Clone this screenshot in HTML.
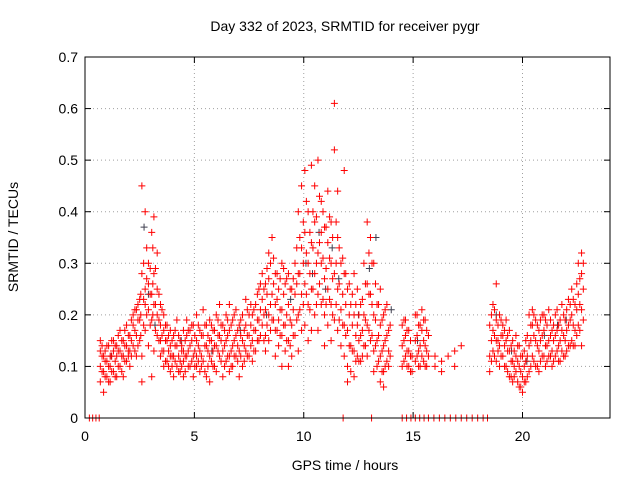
<!DOCTYPE html>
<html><head><meta charset="utf-8"><style>
body{margin:0;background:#fff}
svg text{font-family:"Liberation Sans",sans-serif;fill:#000}
</style></head><body>
<svg id="chart" width="640" height="480" xmlns="http://www.w3.org/2000/svg">
<rect width="640" height="480" fill="#fff"/>
<text x="345" y="31" font-size="14" text-anchor="middle">Day 332 of 2023, SRMTID for receiver pygr</text>
<text x="345" y="470" font-size="14" text-anchor="middle">GPS time / hours</text>
<text x="18" y="237" font-size="14" text-anchor="middle" transform="rotate(-90 18 237)">SRMTID / TECUs</text>
<g id="grid"></g>
<g id="axes"></g>
<g id="marks"></g>
<rect x="85" y="57" width="525" height="361" fill="none" stroke="#000" stroke-width="1"/>
</svg>
<script>
const xTicks=[0,5,10,15,20];
const yTicks=[0,0.1,0.2,0.3,0.4,0.5,0.6,0.7];
const yTickLabels=["0","0.1","0.2","0.3","0.4","0.5","0.6","0.7"];
const hours=[0.7,0.85,1.0,1.15,1.3,1.45,1.6,1.75,1.9,2.05,2.2,2.35,2.5,2.6,2.75,2.9,3.05,3.15,3.3,3.45,3.6,3.75,3.9,4.05,4.2,4.35,4.5,4.65,4.8,4.95,5.1,5.25,5.4,5.55,5.7,5.85,6.0,6.15,6.3,6.45,6.6,6.75,6.9,7.05,7.2,7.35,7.5,7.65,7.8,7.95,8.1,8.25,8.4,8.55,8.7,8.85,9.0,9.15,9.3,9.45,9.6,9.75,9.9,10.05,10.2,10.35,10.5,10.65,10.8,10.95,11.1,11.25,11.4,11.55,11.7,11.85,12.0,12.15,12.3,12.45,12.6,12.75,12.9,13.05,13.2,13.35,13.5,13.65,13.8,13.95,14.5,14.65,14.8,14.95,15.1,15.25,15.4,15.55,15.7,16.0,16.3,16.6,16.9,17.2,18.5,18.65,18.8,18.95,19.1,19.25,19.4,19.55,19.7,19.85,20.0,20.15,20.3,20.45,20.6,20.75,20.9,21.05,21.2,21.35,21.5,21.65,21.8,21.95,22.1,22.25,22.4,22.55,22.7];
const srmtid=[[.10,.13,.07,.15],[.05,.12,.09],[.11,.08,.14],[.07,.12,.10],[.13,.09,.15],[.08,.12,.14],[.10,.17,.13],[.12,.08,.15],[.14,.11,.18],[.16,.13,.10],[.18,.14,.20],[.21,.16,.12],[.19,.15,.23],[.45,.28,.12,.07],[.25,.40,.17,.22],[.21,.30,.14,.26],[.24,.36,.19,.08],[.39,.28,.22,.13],[.32,.25,.16,.20],[.18,.22,.12,.15],[.17,.13,.10,.20],[.15,.11,.18],[.14,.09,.12,.17],[.12,.16,.08],[.14,.10,.19],[.11,.15,.09],[.13,.17,.08,.11],[.16,.12,.19],[.14,.10,.17],[.12,.18,.08],[.15,.10,.20,.12],[.13,.17,.09],[.11,.16,.21],[.08,.14,.18],[.12,.19,.07,.15],[.17,.13,.10],[.20,.14,.09],[.16,.12,.22],[.13,.18,.08],[.15,.11,.20],[.17,.12,.09,.22],[.14,.19,.10],[.16,.12,.21],[.13,.18,.08],[.15,.10,.20],[.18,.13,.23],[.16,.12,.20],[.20,.15,.11],[.22,.17,.13],[.19,.25,.15],[.23,.18,.28],[.21,.16,.26,.13],[.27,.20,.32,.15],[.35,.24,.19],[.28,.22,.17,.12],[.25,.19,.14],[.30,.21,.16,.10],[.26,.18,.13],[.22,.15,.10,.28],[.18,.12,.25],[.24,.16,.30],[.40,.28,.20,.13],[.33,.24,.17,.45],[.36,.26,.48,.18],[.30,.22,.40,.15],[.49,.34,.25,.17],[.38,.28,.20,.45],[.32,.24,.17,.50],[.42,.30,.22,.36],[.37,.27,.20,.14],[.34,.25,.18,.44],[.30,.22,.15,.38],[.61,.52,.28,.19],[.35,.25,.17,.44],[.30,.21,.14],[.48,.28,.18,.12],[.25,.17,.10,.07],[.22,.14,.09],[.20,.13,.08,.28],[.18,.12,.25],[.16,.22,.11],[.14,.20,.30],[.38,.26,.18,.12],[.35,.24,.15],[.30,.20,.13,.09],[.22,.15,.10],[.18,.12,.07,.25],[.14,.09,.06,.20],[.22,.16,.11],[.18,.12],[.14,.10,.18],[.12,.16,.19],[.10,.13,.17],[.12,.09],[.20,.15,.11],[.13,.18,.10],[.17,.12,.21],[.19,.14,.10],[.16,.12],[.12,.10],[.11,.09],[.12],[.10,.13],[.14],[.12,.18,.09],[.17,.13,.22],[.26,.19,.15,.11],[.20,.14,.10],[.18,.12,.16],[.15,.10,.19],[.13,.08,.17],[.11,.15,.07],[.12,.09,.16],[.10,.14,.06],[.08,.12,.05],[.11,.07,.15],[.14,.09,.20],[.18,.12,.21],[.15,.10,.19],[.13,.17,.09],[.16,.12,.20],[.19,.14,.10],[.15,.21,.12],[.13,.17,.10],[.16,.20,.12],[.14,.18,.11],[.17,.13,.22],[.15,.19,.12],[.18,.14,.23],[.20,.15,.25],[.17,.22,.14],[.24,.18,.30],[.28,.21,.32,.14]];
const hours2=[0.78,0.92,1.08,1.22,1.38,1.52,1.68,1.82,1.98,2.12,2.28,2.42,2.55,2.68,2.82,2.98,3.1,3.22,3.38,3.52,3.68,3.82,3.98,4.12,4.28,4.42,4.58,4.72,4.88,5.02,5.18,5.32,5.48,5.62,5.78,5.92,6.08,6.22,6.38,6.52,6.68,6.82,6.98,7.12,7.28,7.42,7.58,7.72,7.88,8.02,8.18,8.32,8.48,8.62,8.78,8.92,9.08,9.22,9.38,9.52,9.68,9.82,9.98,10.12,10.28,10.42,10.58,10.72,10.88,11.02,11.18,11.32,11.48,11.62,11.78,11.92,12.08,12.22,12.38,12.52,12.68,12.82,12.98,13.12,13.28,13.42,13.58,13.72,13.88,14.58,14.72,14.88,15.18,15.32,15.48,15.62,18.58,18.72,18.88,19.02,19.18,19.32,19.48,19.62,19.78,19.92,20.08,20.22,20.38,20.52,20.68,20.82,20.98,21.12,21.28,21.42,21.58,21.72,21.88,22.02,22.18,22.32,22.48,22.62,22.78];
const srmtid2=[[.09,.12,.14],[.08,.11,.13],[.10,.14,.07],[.12,.09,.15],[.11,.14,.08],[.13,.10,.16],[.12,.15,.09],[.14,.11,.17],[.13,.16,.12],[.15,.12,.19],[.17,.13,.21],[.19,.14,.22],[.20,.16,.24],[.23,.18,.30],[.27,.20,.33],[.24,.18,.29],[.26,.20,.33],[.22,.17,.29],[.19,.15,.24],[.16,.13,.21],[.15,.11,.18],[.13,.10,.16],[.12,.15,.10],[.14,.11,.17],[.12,.09,.16],[.14,.10,.13],[.12,.15,.09],[.13,.10,.17],[.15,.11,.18],[.13,.10,.16],[.14,.11,.18],[.12,.16,.10],[.14,.18,.09],[.13,.10,.16],[.15,.11,.18],[.14,.10,.17],[.13,.16,.19],[.15,.11,.18],[.14,.10,.17],[.16,.12,.19],[.13,.10,.18],[.15,.12,.20],[.14,.11,.17],[.16,.12,.19],[.14,.17,.11],[.16,.12,.21],[.18,.14,.22],[.17,.13,.21],[.19,.15,.24],[.21,.16,.26],[.20,.15,.25],[.24,.18,.29],[.22,.17,.30],[.26,.19,.31],[.23,.17,.28],[.21,.16,.27],[.24,.18,.29],[.20,.15,.27],[.19,.14,.25],[.21,.16,.27],[.26,.19,.33],[.28,.21,.35],[.30,.22,.38],[.32,.24,.42],[.28,.21,.36],[.33,.25,.40],[.30,.22,.39],[.34,.26,.43],[.31,.23,.40],[.29,.22,.37],[.31,.23,.39],[.27,.20,.35],[.30,.22,.38],[.26,.19,.33],[.24,.18,.31],[.22,.16,.28],[.20,.14,.26],[.18,.13,.24],[.16,.11,.22],[.15,.11,.20],[.17,.12,.23],[.19,.14,.26],[.24,.17,.32],[.22,.16,.30],[.19,.14,.26],[.16,.11,.22],[.13,.09,.19],[.15,.10,.21],[.13,.17,.10],[.15,.11,.19],[.13,.17,.10],[.12,.15,.09],[.16,.12,.20],[.14,.10,.18],[.15,.11,.19],[.13,.10,.17],[.15,.11,.20],[.21,.16,.12],[.18,.13,.15],[.16,.12,.19],[.14,.10,.17],[.13,.09,.16],[.11,.08,.14],[.10,.13,.08],[.11,.07,.14],[.09,.12,.06],[.10,.07,.13],[.12,.08,.16],[.15,.10,.18],[.16,.11,.20],[.14,.10,.18],[.15,.11,.19],[.17,.12,.20],[.14,.18,.11],[.16,.12,.19],[.15,.11,.18],[.17,.13,.21],[.15,.11,.19],[.16,.12,.20],[.17,.13,.21],[.19,.14,.22],[.18,.14,.23],[.21,.16,.26],[.22,.17,.27],[.25,.19,.30]];
const grayHours=[1.2,2.7,2.9,3.2,4.4,5.8,7.1,8.3,9.4,10.1,10.4,10.7,11.0,11.3,11.6,12.5,13.0,13.3,14.0,15.2,18.8,19.5,20.2,21.0,21.6,22.0,22.4];
const grayValues=[.12,.37,.24,.18,.15,.13,.17,.20,.23,.30,.28,.36,.25,.33,.27,.20,.29,.35,.21,.15,.20,.13,.11,.16,.18,.19,.22];
const zeroHours=[0.2,0.35,0.5,0.65,11.8,13.1,14.5,14.7,14.9,15.1,15.3,15.5,15.7,15.95,16.2,16.45,16.7,16.95,17.2,17.45,17.7,17.95,18.2,18.4];
const zeroValues=[0,0,0,0,0,0,0,0,0,0,0,0,0,0,0,0,0,0,0,0,0,0,0,0];

const NS="http://www.w3.org/2000/svg";
const X=h=>85+h*(525/24);
const Y=v=>418-v*(361/0.7);
const grid=document.getElementById('grid'),axes=document.getElementById('axes'),marks=document.getElementById('marks');
function line(p,x1,y1,x2,y2,st,dash){const l=document.createElementNS(NS,'line');l.setAttribute('x1',x1);l.setAttribute('y1',y1);l.setAttribute('x2',x2);l.setAttribute('y2',y2);l.setAttribute('stroke',st);if(dash)l.setAttribute('stroke-dasharray',dash);p.appendChild(l);return l;}
function txt(p,x,y,s,anchor){const t=document.createElementNS(NS,'text');t.setAttribute('x',x);t.setAttribute('y',y);t.setAttribute('font-size','14');t.setAttribute('text-anchor',anchor);t.textContent=s;p.appendChild(t);return t;}
yTicks.forEach((v,i)=>{
  const y=Y(v);
  if(i>0&&i<yTicks.length-1){const g=line(grid,85,y,610,y,'#a0a0a0','1,3');
  
  }
  line(axes,85,y,91,y,'#000');line(axes,604,y,610,y,'#000');
  const t=txt(axes,78,y+5,yTickLabels[i],'end');
  
  
});
xTicks.forEach(h=>{
  const x=X(h);
  if(h>0){const g=line(grid,x,57,x,418,'#a0a0a0','1,3');
  
  }
  line(axes,x,418,x,412,'#000');line(axes,x,57,x,63,'#000');
  const t=txt(axes,x,441,String(h),'middle');
  
  
});
function plus(h,v,col){
  const x=X(h),y=Y(v);
  const p=document.createElementNS(NS,'path');
  p.setAttribute('d',`M${x-3.5} ${y}H${x+3.5}M${x} ${y-3.5}V${y+3.5}`);
  p.setAttribute('stroke',col);p.setAttribute('stroke-width','1');
  
  
  marks.appendChild(p);
}
grayHours.forEach((h,i)=>plus(h,grayValues[i],'#404050'));
hours.forEach((h,i)=>srmtid[i].forEach(v=>plus(h,v,'#ff0000')));
hours2.forEach((h,i)=>srmtid2[i].forEach(v=>plus(h,v,'#ff0000')));
zeroHours.forEach((h,i)=>plus(h,zeroValues[i],'#ff0000'));
</script>
</body></html>
